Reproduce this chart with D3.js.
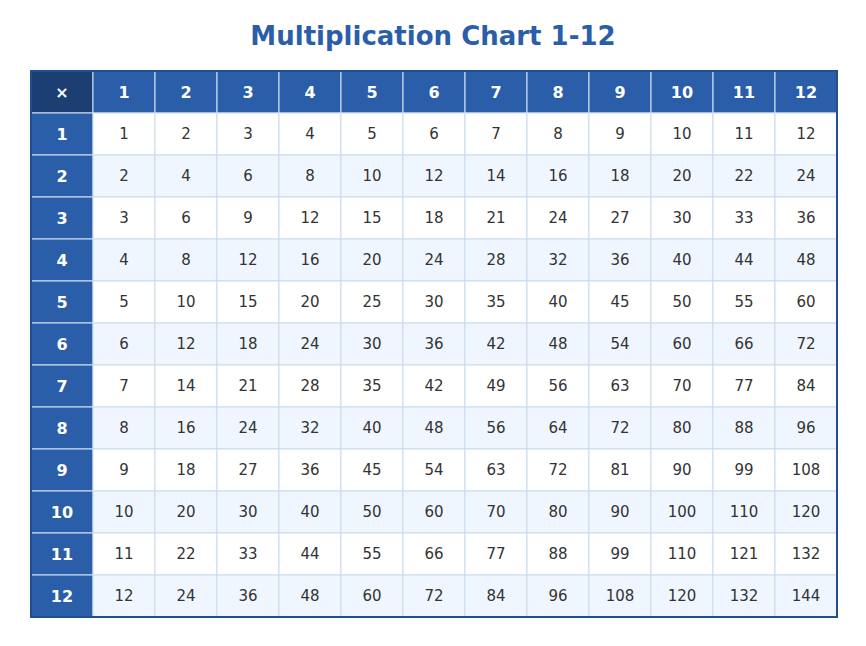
<!DOCTYPE html>
<html><head><meta charset="utf-8">
<script src="https://cdn.jsdelivr.net/npm/d3@7"></script>
<style>body{margin:0;background:#fff;font-family:"DejaVu Sans",sans-serif}</style>
</head><body><svg id="c" width="866" height="646"></svg>
<script>
const title = "Multiplication Chart 1-12";
const factors = [1,2,3,4,5,6,7,8,9,10,11,12];
const cornerLabel = "×";

const svg = d3.select("#c");
const x = d3.scaleBand().domain(d3.range(13)).range([31, 837]);
const y = d3.scaleBand().domain(d3.range(13)).range([71, 617]);
const blue = "#2b5ea8", dark = "#1b3f73", grid = "#c9d9ee";

svg.append("text").attr("x",433).attr("y",45).attr("text-anchor","middle")
  .attr("font-size",26).attr("font-weight","bold").attr("fill","#2b5ea8").text(title);

const cells = [];
for (let r=0;r<13;r++) for (let c=0;c<13;c++) {
  let txt, fill, color, bold=false;
  if (r===0 && c===0) { txt=cornerLabel; fill=dark; color="#fff"; bold=true; }
  else if (r===0) { txt=factors[c-1]; fill=blue; color="#fff"; bold=true; }
  else if (c===0) { txt=factors[r-1]; fill=blue; color="#fff"; bold=true; }
  else { txt=factors[r-1]*factors[c-1]; fill = r%2===1 ? "#ffffff" : "#f0f6ff"; color="#333"; }
  cells.push({r,c,txt,fill,color,bold});
}
const g = svg.selectAll("g.cell").data(cells).enter().append("g");
g.append("rect").attr("x",d=>x(d.c)).attr("y",d=>y(d.r))
  .attr("width",x.bandwidth()).attr("height",y.bandwidth())
  .attr("fill",d=>d.fill).attr("stroke",d=>(d.r===0||d.c===0)?"#d8e4f4":grid).attr("stroke-width",1);
g.append("text").attr("x",d=>x(d.c)+x.bandwidth()/2).attr("y",d=>y(d.r)+y.bandwidth()/2)
  .attr("dy","0.36em").attr("text-anchor","middle")
  .attr("font-size",d=>d.bold?16:15).attr("font-weight",d=>d.bold?"bold":"normal")
  .attr("fill",d=>d.color).text(d=>d.txt);
svg.append("rect").attr("x",31).attr("y",71).attr("width",806).attr("height",546)
  .attr("fill","none").attr("stroke","#244f8f").attr("stroke-width",2);
</script></body></html>
